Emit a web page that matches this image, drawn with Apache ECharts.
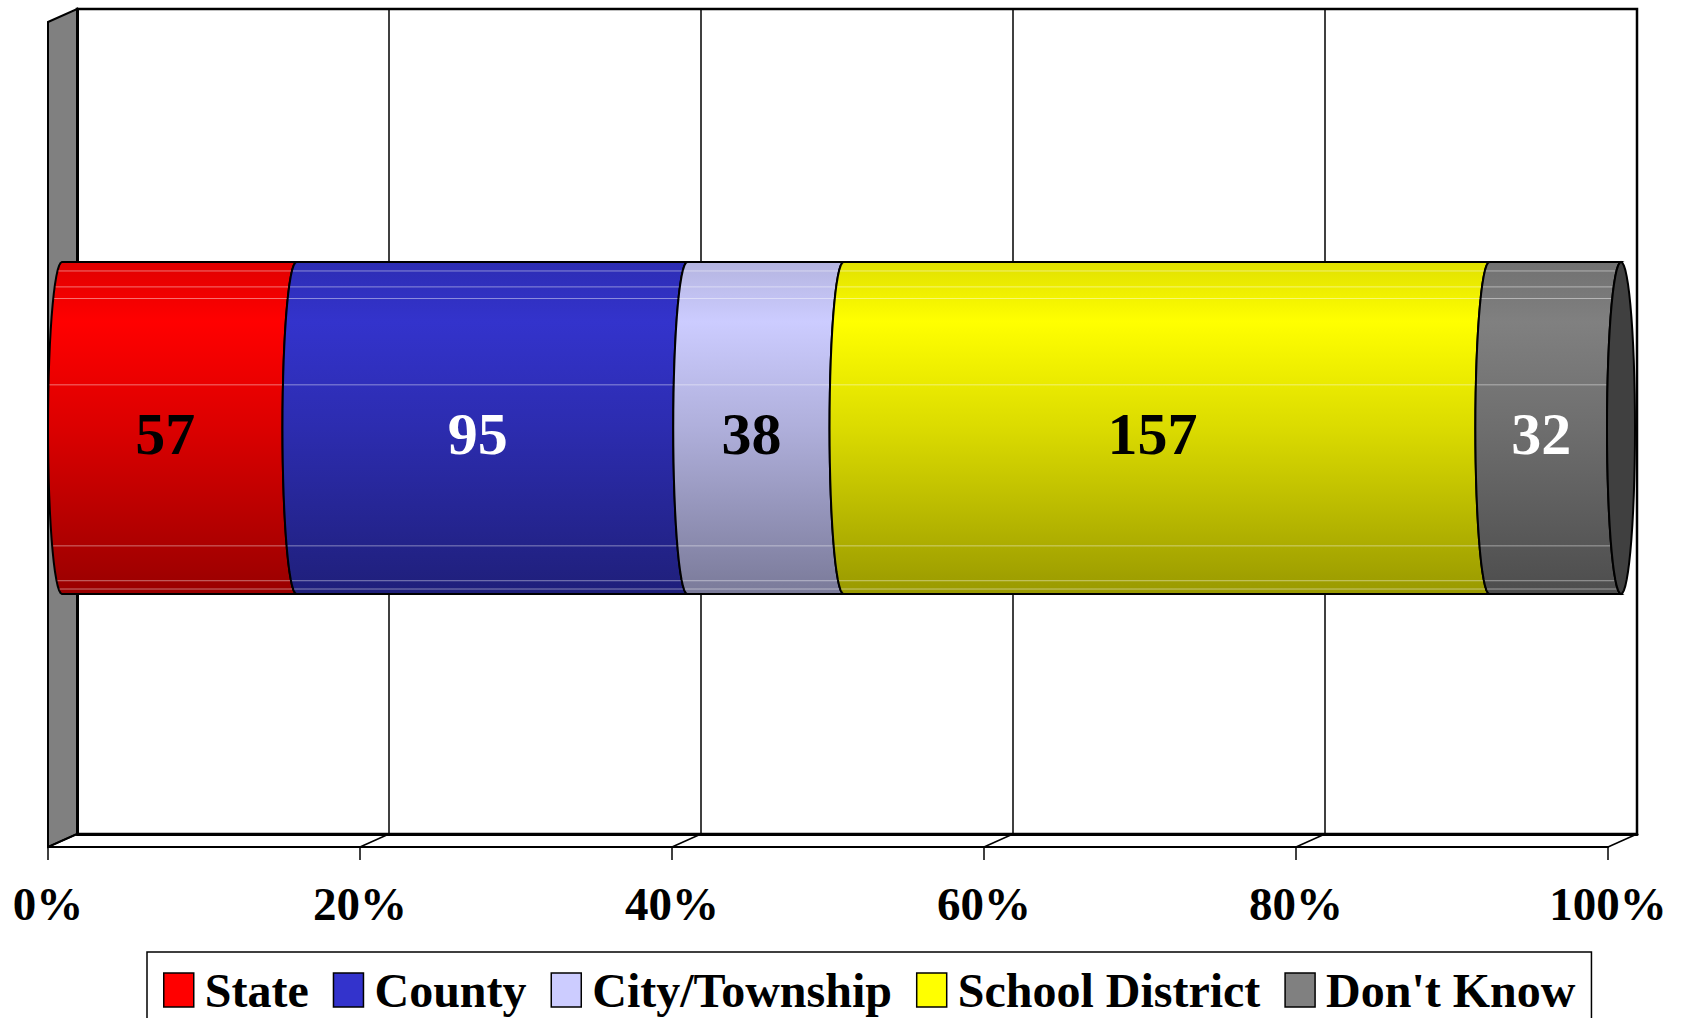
<!DOCTYPE html>
<html>
<head>
<meta charset="utf-8">
<script src="https://cdn.jsdelivr.net/npm/echarts@6/dist/echarts.min.js"></script>
<style>
  html, body { margin: 0; padding: 0; background: #fff; }
  #chart { width: 1681px; height: 1018px; }
</style>
</head>
<body>
<div id="chart"></div>
<script>
const categories = ['State', 'County', 'City/Township', 'School District', "Don't Know"];
const counts = [57, 95, 38, 157, 32];
const tickValues = [0, 20, 40, 60, 80, 100];

const colors = ['#ff0000', '#3333cc', '#ccccff', '#ffff00', '#808080'];
const labelColors = ['#000', '#fff', '#000', '#000', '#fff'];
const FONT = '"Liberation Serif", "Times New Roman", serif';
const RX = 14;            // half width of the cylinder ellipse
const WALL_TOP = 22, BACK_TOP = 9, Y_BACK = 834, Y_FRONT = 847;
const shineLines = [0.027, 0.075, 0.11, 0.37, 0.855, 0.96, 0.985];

const total = counts.reduce((a, b) => a + b, 0);
const starts = [];
let acc = 0;
for (const c of counts) { starts.push(acc); acc += c; }

function shade(hex, f) {
  const n = parseInt(hex.slice(1), 16);
  const r = Math.min(255, Math.round(((n >> 16) & 255) * f));
  const g = Math.min(255, Math.round(((n >> 8) & 255) * f));
  const b = Math.min(255, Math.round((n & 255) * f));
  return `rgb(${r},${g},${b})`;
}

function gradient(hex) {
  return {
    type: 'linear', x: 0, y: 0, x2: 0, y2: 1,
    colorStops: [
      {offset: 0, color: shade(hex, 0.88)},
      {offset: 0.18, color: shade(hex, 1)},
      {offset: 0.5, color: shade(hex, 0.86)},
      {offset: 1, color: shade(hex, 0.6)}
    ]
  };
}

function renderSegment(i) {
  return function (params, api) {
    const p0 = api.coord([api.value(0), api.value(2)]);
    const p1 = api.coord([api.value(1), api.value(2)]);
    const h = api.size([0, 1])[1];
    const cy = p0[1], ry = h / 2, top = cy - ry;
    const xs = p0[0], xe = p1[0];
    const steps = 30;
    const pts = [];
    for (let k = 0; k <= steps; k++) {
      const t = -Math.PI / 2 + Math.PI * k / steps;
      pts.push([xe - RX * Math.cos(t), cy + ry * Math.sin(t)]);
    }
    for (let k = 0; k <= steps; k++) {
      const t = Math.PI / 2 - Math.PI * k / steps;
      pts.push([xs - RX * Math.cos(t), cy + ry * Math.sin(t)]);
    }
    const children = [{
      type: 'polygon',
      shape: {points: pts},
      style: {fill: gradient(colors[i]), stroke: '#000', lineWidth: 2},
      z2: 1
    }];
    for (const f of shineLines) {
      const y = top + f * h;
      const u = (y - cy) / ry;
      const dx = RX * Math.sqrt(Math.max(0, 1 - u * u));
      children.push({
        type: 'line',
        shape: {x1: xs - dx + 1, y1: y, x2: xe - dx - 1, y2: y},
        style: {stroke: 'rgba(255,255,255,0.45)', lineWidth: 1},
        z2: 2
      });
    }
    if (i === counts.length - 1) {
      const cap = [];
      for (let k = 0; k <= 60; k++) {
        const t = Math.PI * 2 * k / 60;
        cap.push([xe + RX * Math.cos(t), cy + ry * Math.sin(t)]);
      }
      children.push({
        type: 'polygon',
        shape: {points: cap},
        style: {fill: '#404040', stroke: '#000', lineWidth: 2},
        z2: 3
      });
    }
    children.push({
      type: 'text',
      x: (xs + xe) / 2 - RX,
      y: cy + 6,
      style: {
        text: String(counts[i]),
        fill: labelColors[i],
        fontFamily: FONT,
        fontWeight: 'bold',
        fontSize: 60,
        align: 'center',
        verticalAlign: 'middle'
      },
      z2: 10
    });
    return {type: 'group', children};
  };
}

const chart = echarts.init(document.getElementById('chart'), null, {renderer: 'svg'});

const option = {
  animation: false,
  backgroundColor: '#fff',
  grid: [
    {left: 77, right: 44, top: BACK_TOP, bottom: 1018 - Y_BACK, show: true,
      backgroundColor: '#fff', borderColor: '#000', borderWidth: 2.5},
    {left: 48, right: 73, top: 840, bottom: 1018 - Y_FRONT},
    {left: 62, right: 60, top: 262, bottom: 424}
  ],
  xAxis: [
    {
      gridIndex: 0, type: 'value', min: 0, max: 100, interval: 20,
      axisLine: {show: true, onZero: false, lineStyle: {color: '#000', width: 3}},
      axisTick: {show: false}, axisLabel: {show: false},
      splitLine: {show: true, lineStyle: {color: '#000', width: 1.5}}
    },
    {
      gridIndex: 1, type: 'value', min: 0, max: 100, interval: 20,
      axisLine: {show: true, onZero: false, lineStyle: {color: '#000', width: 2}},
      axisTick: {show: true, length: 13, lineStyle: {color: '#000', width: 1.5}},
      axisLabel: {
        formatter: '{value}%', fontFamily: FONT, fontWeight: 'bold',
        fontSize: 47, color: '#000', margin: 33
      },
      splitLine: {show: false}
    },
    {gridIndex: 2, type: 'value', min: 0, max: total, show: false}
  ],
  yAxis: [
    {
      gridIndex: 0, type: 'value', min: 0, max: 1,
      axisLine: {show: true, onZero: false, lineStyle: {color: '#000', width: 3}},
      axisTick: {show: false}, axisLabel: {show: false}, splitLine: {show: false}
    },
    {gridIndex: 1, type: 'value', min: 0, max: 1, show: false},
    {gridIndex: 2, type: 'category', data: ['Responses'], show: false}
  ],
  legend: {
    left: 147, top: 952, orient: 'horizontal',
    padding: [14, 16, 14, 16],
    itemWidth: 30, itemHeight: 34, itemGap: 24,
    icon: 'rect',
    borderColor: '#000', borderWidth: 1.5, backgroundColor: '#fff',
    itemStyle: {borderColor: '#000', borderWidth: 1.5},
    textStyle: {
      fontFamily: FONT, fontWeight: 'bold', fontSize: 48, color: '#000',
      padding: [0, 0, 0, 6]
    },
    data: categories
  },
  series: categories.map((name, i) => ({
    type: 'custom',
    name: name,
    xAxisIndex: 2,
    yAxisIndex: 2,
    z: 3,
    itemStyle: {color: colors[i]},
    encode: {x: [0, 1], y: 2},
    data: [[starts[i], starts[i] + counts[i], 0]],
    renderItem: renderSegment(i)
  }))
};

chart.setOption(option);

// 3D floor and side wall, placed from the two percentage axes
const front = v => chart.convertToPixel({xAxisIndex: 1}, v);
const back = v => chart.convertToPixel({xAxisIndex: 0}, v);
const graphic = [{
  type: 'polygon', z: 1,
  shape: {points: [[front(0), WALL_TOP], [back(0), BACK_TOP], [back(0), Y_BACK], [front(0), Y_FRONT]]},
  style: {fill: '#808080', stroke: '#000', lineWidth: 2}
}];
for (const v of tickValues) {
  graphic.push({
    type: 'line', z: 1,
    shape: {x1: front(v), y1: Y_FRONT, x2: back(v), y2: Y_BACK},
    style: {stroke: '#000', lineWidth: 1.5}
  });
}
chart.setOption({graphic});
</script>
</body>
</html>
